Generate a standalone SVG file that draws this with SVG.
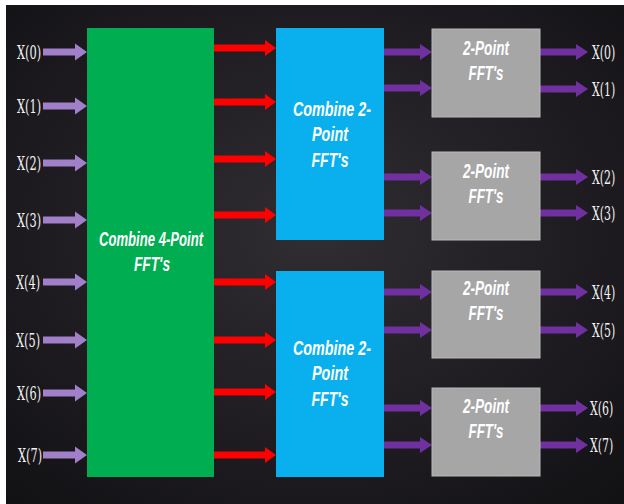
<svg xmlns="http://www.w3.org/2000/svg" width="624" height="504" viewBox="0 0 624 504">
<defs>
<style>
.lbl{font-family:"DejaVu Serif","Liberation Serif",serif;font-size:18px;fill:#f2f2f2}
.bt{font-family:"Liberation Sans Narrow","Liberation Sans",Arial,sans-serif;font-size:20px;font-weight:bold;font-style:italic;fill:#ffffff;text-anchor:middle}
.green{fill:#00ad50}
.blue{fill:#0ab0ee}
.gray{fill:#a6a6a6;stroke:#b8b8b8;stroke-width:1}
</style>
<radialGradient id="bg" cx="0.5" cy="0.45" r="0.75">
<stop offset="0" stop-color="#302d33"/>
<stop offset="1" stop-color="#111013"/>
</radialGradient>
<path id="ain" d="M-44,-3.5 H-12 V-8.5 L0,0 L-12,8.5 V3.5 H-44 Z" fill="#a27fc9"/>
<path id="ared" d="M-62,-3.5 H-11 V-8 L0,0 L-11,8 V3.5 H-62 Z" fill="#ff0000"/>
<path id="apur" d="M-48,-3.5 H-12 V-8 L0,0 L-12,8 V3.5 H-48 Z" fill="#7030a0"/>
</defs>
<rect x="0" y="0" width="624" height="504" fill="#ffffff"/>
<rect x="6" y="5" width="618" height="499" fill="url(#bg)"/>

<g id="connectors">
<use href="#ain" x="87" y="52"/>
<use href="#ain" x="87" y="106"/>
<use href="#ain" x="87" y="163"/>
<use href="#ain" x="87" y="220"/>
<use href="#ain" x="87" y="282"/>
<use href="#ain" x="87" y="340"/>
<use href="#ain" x="87" y="393"/>
<use href="#ain" x="87" y="455"/>
<use href="#ared" x="276" y="48"/>
<use href="#ared" x="276" y="102"/>
<use href="#ared" x="276" y="159"/>
<use href="#ared" x="276" y="215"/>
<use href="#ared" x="276" y="282"/>
<use href="#ared" x="276" y="340"/>
<use href="#ared" x="276" y="392"/>
<use href="#ared" x="276" y="455"/>
<use href="#apur" x="432" y="52"/>
<use href="#apur" x="432" y="88"/>
<use href="#apur" x="432" y="177"/>
<use href="#apur" x="432" y="213"/>
<use href="#apur" x="432" y="292"/>
<use href="#apur" x="432" y="330"/>
<use href="#apur" x="432" y="408"/>
<use href="#apur" x="432" y="445"/>
<use href="#apur" x="588" y="52"/>
<use href="#apur" x="588" y="89"/>
<use href="#apur" x="588" y="177"/>
<use href="#apur" x="588" y="213"/>
<use href="#apur" x="588" y="292"/>
<use href="#apur" x="588" y="330"/>
<use href="#apur" x="588" y="408"/>
<use href="#apur" x="588" y="445"/>
</g>

<g id="inputs">
<text class="lbl" transform="translate(17,59) scale(0.63,1)">X(0)</text>
<text class="lbl" transform="translate(17,113) scale(0.63,1)">X(1)</text>
<text class="lbl" transform="translate(17,170) scale(0.63,1)">X(2)</text>
<text class="lbl" transform="translate(17,227) scale(0.63,1)">X(3)</text>
<text class="lbl" transform="translate(16,289) scale(0.63,1)">X(4)</text>
<text class="lbl" transform="translate(16,347) scale(0.63,1)">X(5)</text>
<text class="lbl" transform="translate(17,400) scale(0.63,1)">X(6)</text>
<text class="lbl" transform="translate(18,462) scale(0.63,1)">X(7)</text>
</g>

<g id="outputs">
<text class="lbl" transform="translate(592,59) scale(0.61,1)">X(0)</text>
<text class="lbl" transform="translate(592,96) scale(0.61,1)">X(1)</text>
<text class="lbl" transform="translate(592,184) scale(0.61,1)">X(2)</text>
<text class="lbl" transform="translate(592,220) scale(0.61,1)">X(3)</text>
<text class="lbl" transform="translate(592,299) scale(0.61,1)">X(4)</text>
<text class="lbl" transform="translate(592,337) scale(0.61,1)">X(5)</text>
<text class="lbl" transform="translate(590,415) scale(0.61,1)">X(6)</text>
<text class="lbl" transform="translate(590,452) scale(0.61,1)">X(7)</text>
</g>

<g id="combine4">
<rect class="green" x="87" y="28" width="127" height="449"/>
<text class="bt" x="151" y="246" textLength="104" lengthAdjust="spacingAndGlyphs">Combine 4-Point</text>
<text class="bt" x="152" y="271" textLength="36" lengthAdjust="spacingAndGlyphs">FFT's</text>
</g>

<g id="combine2a">
<rect class="blue" x="276" y="28" width="108" height="212"/>
<text class="bt" x="332" y="116" textLength="78" lengthAdjust="spacingAndGlyphs">Combine 2-</text>
<text class="bt" x="330" y="141" textLength="36" lengthAdjust="spacingAndGlyphs">Point</text>
<text class="bt" x="330" y="167" textLength="37" lengthAdjust="spacingAndGlyphs">FFT's</text>
</g>

<g id="combine2b">
<rect class="blue" x="276" y="271" width="108" height="206"/>
<text class="bt" x="332" y="355" textLength="78" lengthAdjust="spacingAndGlyphs">Combine 2-</text>
<text class="bt" x="330" y="380" textLength="36" lengthAdjust="spacingAndGlyphs">Point</text>
<text class="bt" x="330" y="406" textLength="37" lengthAdjust="spacingAndGlyphs">FFT's</text>
</g>

<g id="fft2a">
<rect class="gray" x="432" y="29" width="108" height="88"/>
<text class="bt" x="486" y="55" textLength="46" lengthAdjust="spacingAndGlyphs">2-Point</text>
<text class="bt" x="486" y="80" textLength="35" lengthAdjust="spacingAndGlyphs">FFT's</text>
</g>

<g id="fft2b">
<rect class="gray" x="432" y="152" width="108" height="88"/>
<text class="bt" x="486" y="178" textLength="46" lengthAdjust="spacingAndGlyphs">2-Point</text>
<text class="bt" x="486" y="203" textLength="35" lengthAdjust="spacingAndGlyphs">FFT's</text>
</g>

<g id="fft2c">
<rect class="gray" x="432" y="271" width="108" height="87"/>
<text class="bt" x="486" y="295" textLength="46" lengthAdjust="spacingAndGlyphs">2-Point</text>
<text class="bt" x="486" y="320" textLength="35" lengthAdjust="spacingAndGlyphs">FFT's</text>
</g>

<g id="fft2d">
<rect class="gray" x="432" y="388" width="108" height="88"/>
<text class="bt" x="486" y="413" textLength="46" lengthAdjust="spacingAndGlyphs">2-Point</text>
<text class="bt" x="486" y="438" textLength="35" lengthAdjust="spacingAndGlyphs">FFT's</text>
</g>
</svg>
